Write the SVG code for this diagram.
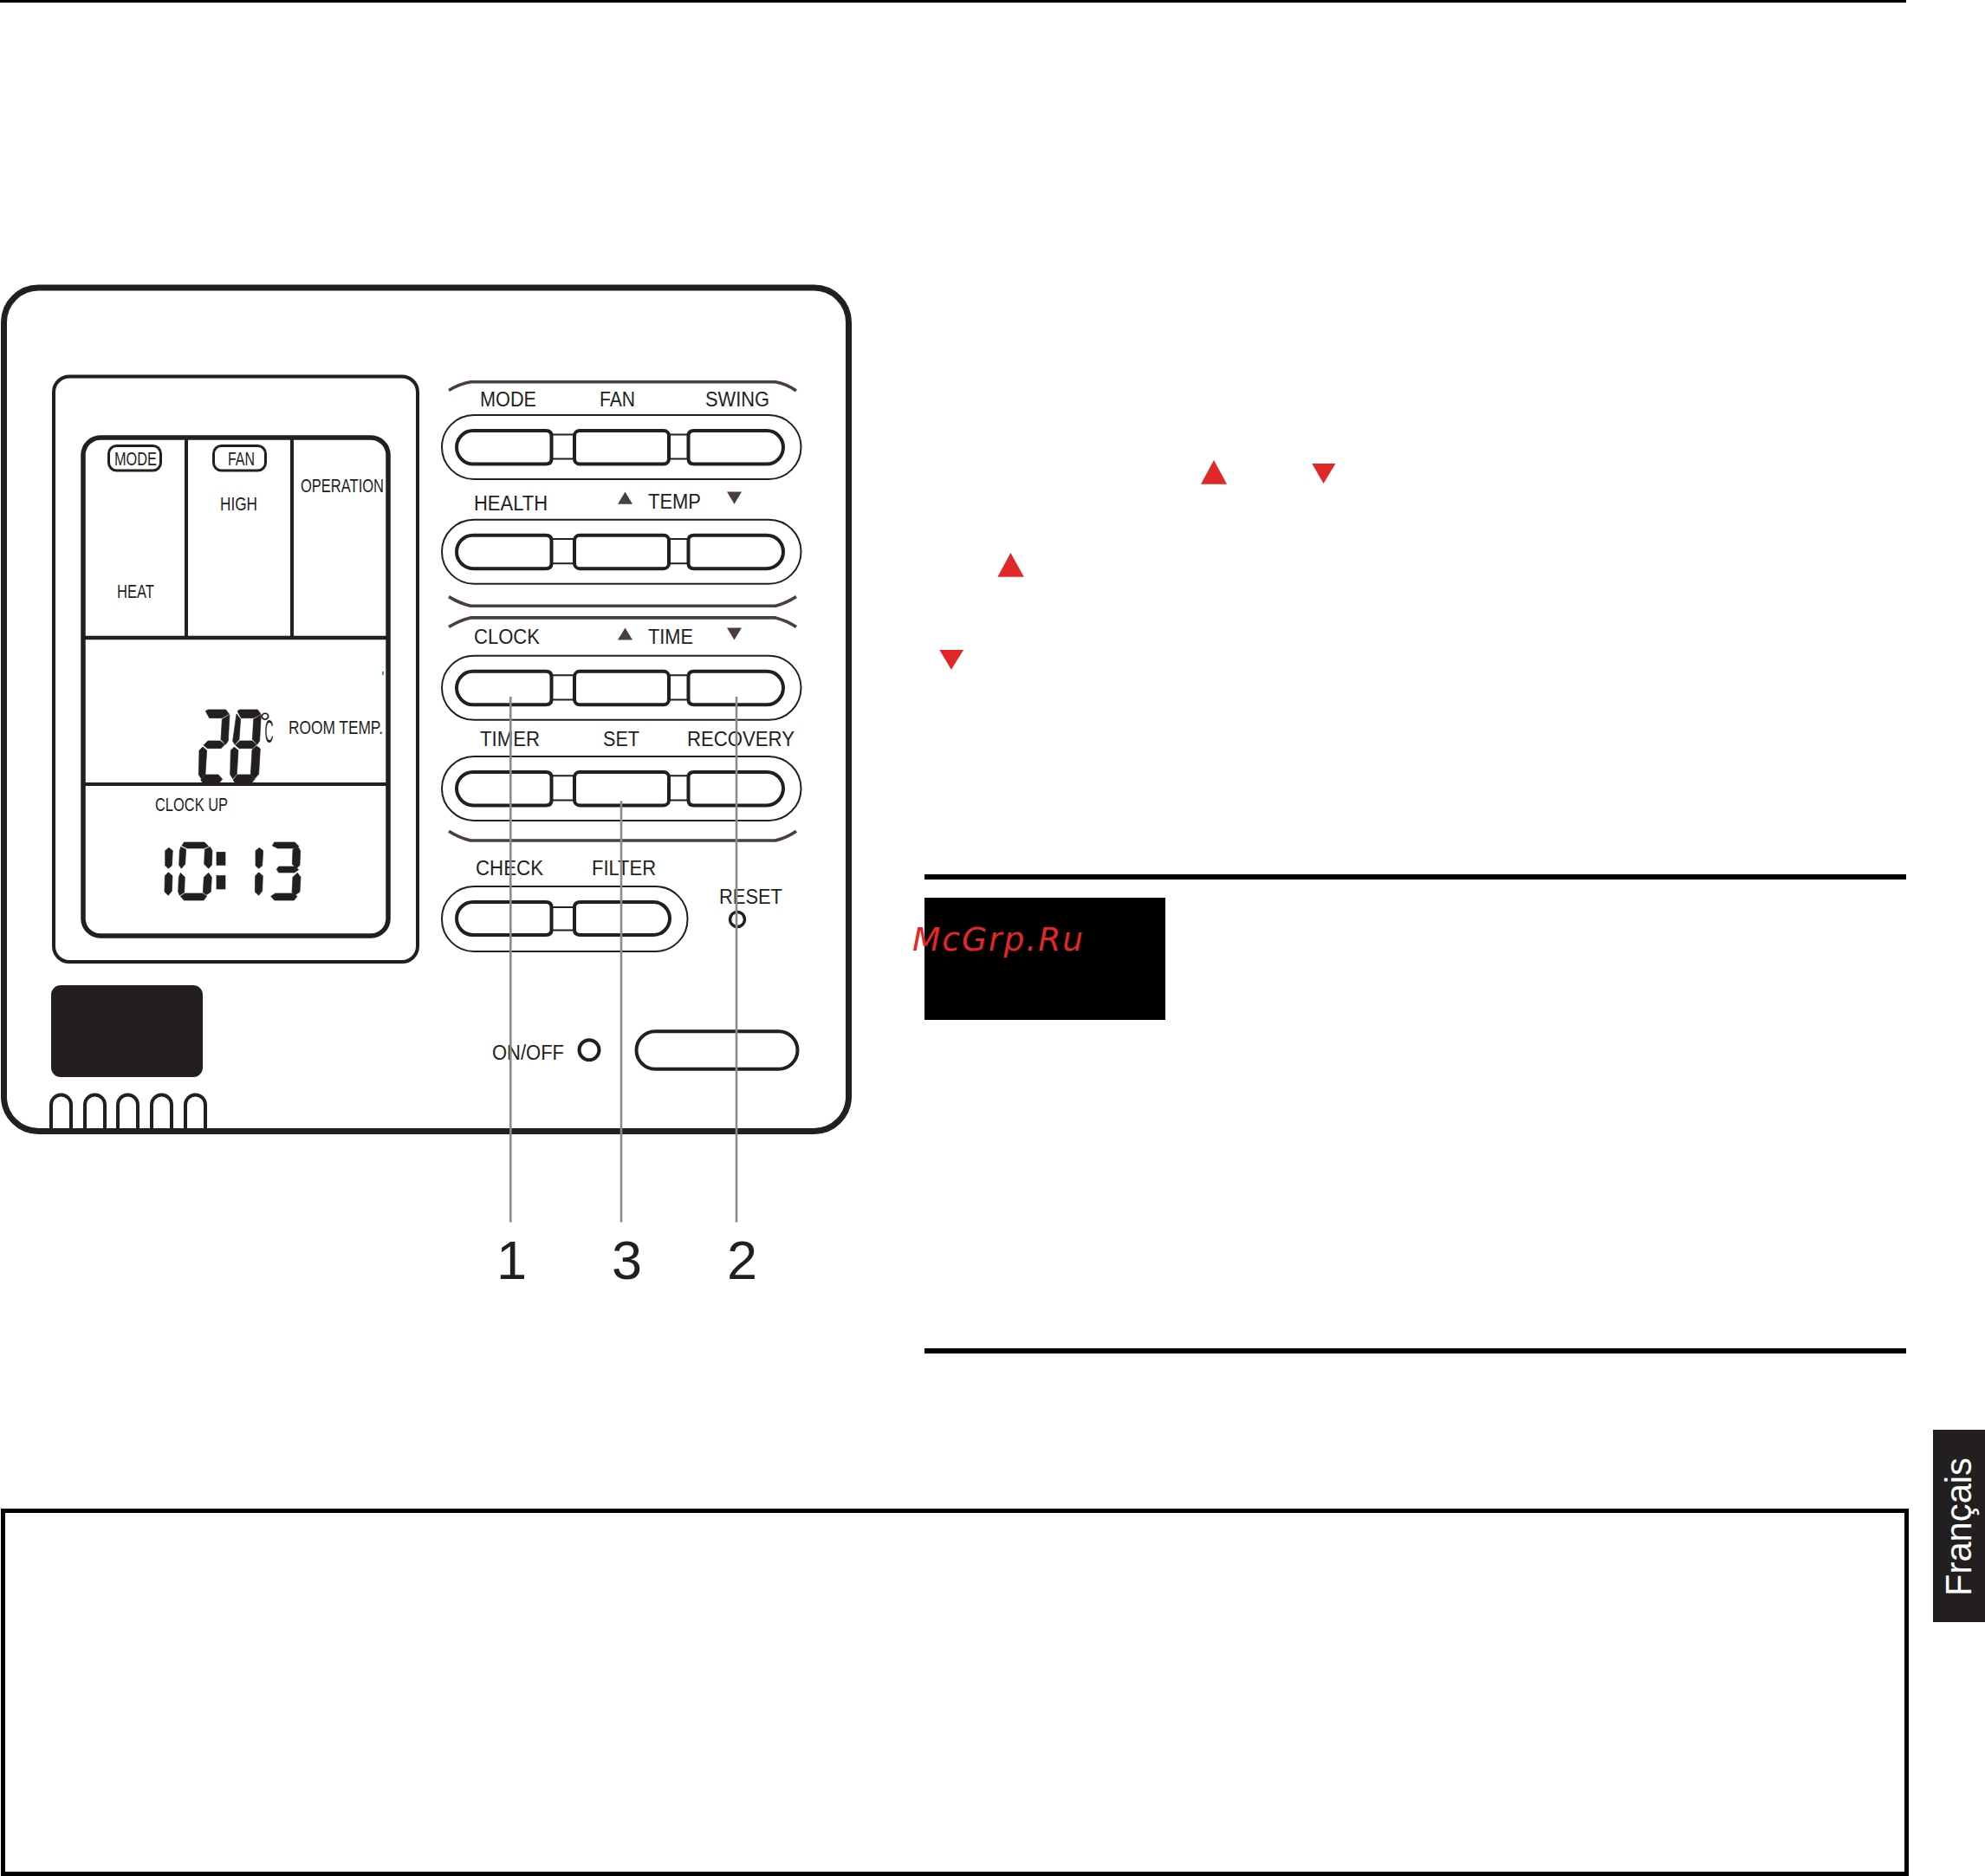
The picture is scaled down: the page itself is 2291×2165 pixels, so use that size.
<svg xmlns="http://www.w3.org/2000/svg" xmlns:xlink="http://www.w3.org/1999/xlink" width="2291" height="2165" viewBox="0 0 2291 2165">
<style>
text{font-family:"Liberation Sans",Arial,sans-serif;fill:#231f20}
.l{font-size:24.4px}
.d{font-size:22px}
.ln{fill:none;stroke:#231f20}
.btn{fill:#fff;stroke:#231f20;stroke-width:4}
.pill{fill:#fff;stroke:#231f20;stroke-width:2}
.thin{stroke:#231f20;stroke-width:2;fill:none}
.br{fill:none;stroke:#4a3f3c;stroke-width:3.6}
.gt{fill:#4a3f3c}
.rt{fill:#e12828}
.seg{fill:#231f20;stroke:#231f20;stroke-width:2}
.lead{stroke:#8a8a8c;stroke-width:2.6;fill:none}
.num{font-size:63px}
</style>
<defs>
<g id="row3">
<rect class="pill" x="510" y="479" width="414.5" height="74" rx="37"/>
<path class="thin" d="M636 501.400H664M636 529.600H664M771 501.400H795M771 529.600H795"/>
<path class="btn" d="M546 497H630Q636.500 497 636.500 503V529.500Q636.500 535.500 630 535.500H546C535 535.500 527 526 527 516.200C527 506 535 497 546 497Z"/>
<rect class="btn" x="663" y="497" width="109" height="38.500" rx="6"/>
<path class="btn" d="M885 497H801Q794.500 497 794.500 503V529.500Q794.500 535.500 801 535.500H885C896 535.500 904 526 904 516.200C904 506 896 497 885 497Z"/>
</g>
<path id="dgTop" d="M822,62L830,57L892,57L903,72L878,86L835,86Z"/>
<path id="dgUL" d="M819,72L833,90L828,160L813,178L806,165Z"/>
<path id="dgUR" d="M904,74L899,165L890,178L874,160L878,90Z"/>
<path id="dgMid" d="M815,180L830,165L873,165L888,178L875,191L828,191Z"/>
<path id="dgLL" d="M811,186L825,198L820,280L806,296L797,282L799,198Z"/>
<path id="dgLR" d="M888,182L901,192L896,280L882,296L868,282L873,196Z"/>
<path id="dgBot" d="M807,300L822,282L868,282L882,298L870,312L815,312Z"/>
<path id="sTop" d="M637,516L708,516L722,530L706,537L648,537L630,528Z"/>
<path id="sUL" d="M626,532L644,541L641,592L628,607L620,595L622,545Z"/>
<path id="sUR" d="M727,532L735,545L733,595L722,607L707,592L709,541Z"/>
<path id="sLL" d="M625,622L640,637L638,690L622,700L617,688L619,637Z"/>
<path id="sLR" d="M722,622L733,637L730,688L715,698L703,690L706,637Z"/>
<path id="sBot" d="M625,703L640,693L702,693L716,703L705,717L637,717Z"/>
</defs>

<rect width="2291" height="2165" fill="#fff"/>

<g id="page-rules">
<rect x="0" y="0" width="2200" height="3" fill="#000"/>
<rect x="1067" y="1009" width="1133" height="6" fill="#000"/>
<rect x="1067" y="1556" width="1133" height="6" fill="#000"/>
<rect x="3.500" y="1743.500" width="2197" height="419" fill="none" stroke="#000" stroke-width="5"/>
</g>

<g id="panel">
<rect class="ln" x="4.500" y="332" width="975" height="973.500" rx="40" stroke-width="7"/>
</g>

<g id="lcd-frame">
<rect class="ln" x="62" y="434.500" width="420" height="675.500" rx="18" stroke-width="4"/>
<rect class="ln" x="96" y="505" width="352" height="575" rx="20" stroke-width="5.500"/>
<path class="ln" stroke-width="4" d="M215,505V736M337,505V736"/>
<path class="ln" stroke-width="4.500" d="M96,736H448"/>
<path class="ln" stroke-width="4" d="M96,905H448"/>
<rect x="441" y="775" width="2" height="4" fill="#2aa0dc"/>
</g>

<g id="lcd-mode">
<rect class="ln" x="125.500" y="514.500" width="60" height="28.500" rx="9" stroke-width="3"/>
<text class="d" x="132" y="537" textLength="49" lengthAdjust="spacingAndGlyphs">MODE</text>
<text class="d" x="135" y="690" textLength="43" lengthAdjust="spacingAndGlyphs">HEAT</text>
</g>
<g id="lcd-fan">
<rect class="ln" x="246.500" y="514.500" width="60" height="28.500" rx="9" stroke-width="3"/>
<text class="d" x="263" y="537" textLength="31" lengthAdjust="spacingAndGlyphs">FAN</text>
<text class="d" x="254" y="589" textLength="43" lengthAdjust="spacingAndGlyphs">HIGH</text>
</g>
<g id="lcd-operation">
<text class="d" x="347" y="568" textLength="96" lengthAdjust="spacingAndGlyphs">OPERATION</text>
</g>
<g id="lcd-temp">
<g transform="translate(0,800) scale(.33333)" class="seg">
<use xlink:href="#dgTop" href="#dgTop" x="-110"/><use href="#dgUR" xlink:href="#dgUR" x="-109"/><use href="#dgMid" xlink:href="#dgMid" x="-110"/><use href="#dgLL" xlink:href="#dgLL" x="-109"/><use href="#dgBot" xlink:href="#dgBot" x="-112"/>
<use href="#dgTop" xlink:href="#dgTop"/><use href="#dgUL" xlink:href="#dgUL"/><use href="#dgUR" xlink:href="#dgUR"/><use href="#dgMid" xlink:href="#dgMid"/><use href="#dgLL" xlink:href="#dgLL"/><use href="#dgLR" xlink:href="#dgLR"/><use href="#dgBot" xlink:href="#dgBot"/>
</g>
<text><tspan x="299.500" y="844" font-size="32">°</tspan><tspan x="305.500" y="856.500" font-size="36" textLength="10" lengthAdjust="spacingAndGlyphs">C</tspan></text>
<text class="d" x="333" y="847" textLength="109" lengthAdjust="spacingAndGlyphs">ROOM TEMP.</text>
</g>
<g id="lcd-clock">
<text class="d" x="179" y="936" textLength="84" lengthAdjust="spacingAndGlyphs">CLOCK UP</text>
<g transform="translate(0,800) scale(.33333)" class="seg">
<path d="M585,535L598,545L595,597L583,607L572,597L572,545Z"/>
<path d="M583,620L597,632L595,685L583,700L570,688L571,632Z"/>
<use href="#sTop" xlink:href="#sTop"/><use href="#sUL" xlink:href="#sUL"/><use href="#sUR" xlink:href="#sUR"/><use href="#sLL" xlink:href="#sLL"/><use href="#sLR" xlink:href="#sLR"/><use href="#sBot" xlink:href="#sBot"/>
<rect x="750" y="550" width="30" height="45"/><rect x="750" y="632" width="30" height="46"/>
<path d="M898,535L911,545L908,597L896,607L885,597L885,545Z"/>
<path d="M896,620L910,632L908,685L896,700L883,688L884,632Z"/>
<use href="#sTop" xlink:href="#sTop" x="313"/><use href="#sUR" xlink:href="#sUR" x="305"/><use href="#sLR" xlink:href="#sLR" x="308"/><use href="#sBot" xlink:href="#sBot" x="313"/>
<path d="M965,600L1020,600L1034,611L1020,621L965,621L958,610Z"/>
</g>
</g>

<g id="black-block"><rect x="59" y="1137" width="175" height="106" rx="11" fill="#231f20"/></g>
<g id="feet">
<path class="ln" stroke-width="4" d="M59,1303V1275A11.500,11.500 0 0 1 82,1275V1303M98,1303V1275A11.500,11.500 0 0 1 121,1275V1303M136,1303V1275A11.500,11.500 0 0 1 159,1275V1303M175,1303V1275A11.500,11.500 0 0 1 198,1275V1303M214,1303V1275A11.500,11.500 0 0 1 237,1275V1303"/>
</g>

<g id="brackets">
<path class="br" d="M518,450.500Q530,443 543,440.700H895Q908,443 919,451"/>
<path class="br" d="M518,688.600Q530,696 543,699.300H895Q908,696 919,688.600"/>
<path class="br" d="M518,723.600Q530,716 543,712.900H895Q908,716 919,723.600"/>
<path class="br" d="M518,959.300Q530,967 543,970H895Q908,967 919,959.300"/>
</g>

<g id="row-1">
<use href="#row3" xlink:href="#row3"/>
<text class="l" x="554" y="468.900" textLength="65" lengthAdjust="spacingAndGlyphs">MODE</text>
<text class="l" x="692" y="468.900" textLength="41" lengthAdjust="spacingAndGlyphs">FAN</text>
<text class="l" x="814" y="468.900" textLength="74" lengthAdjust="spacingAndGlyphs">SWING</text>
</g>
<g id="row-2">
<use href="#row3" xlink:href="#row3" y="120.700"/>
<text class="l" x="547" y="588.600" textLength="85" lengthAdjust="spacingAndGlyphs">HEALTH</text>
<text class="l" x="748" y="586.800" textLength="61" lengthAdjust="spacingAndGlyphs">TEMP</text>
<path class="gt" d="M713,581.800L721.500,567.500L730,581.800Z"/>
<path class="gt" d="M839,567.500H856L847.500,581.800Z"/>
</g>
<g id="row-3">
<use href="#row3" xlink:href="#row3" y="277.800"/>
<text class="l" x="547" y="743.200" textLength="76" lengthAdjust="spacingAndGlyphs">CLOCK</text>
<text class="l" x="748" y="743.200" textLength="52" lengthAdjust="spacingAndGlyphs">TIME</text>
<path class="gt" d="M713,738.600L721.500,724.600L730,738.600Z"/>
<path class="gt" d="M839,724.600H856L847.500,738.600Z"/>
</g>
<g id="row-4">
<use href="#row3" xlink:href="#row3" y="393.900"/>
<text class="l" x="554" y="861" textLength="69" lengthAdjust="spacingAndGlyphs">TIMER</text>
<text class="l" x="696" y="861" textLength="42" lengthAdjust="spacingAndGlyphs">SET</text>
<text class="l" x="793" y="861" textLength="124" lengthAdjust="spacingAndGlyphs">RECOVERY</text>
</g>
<g id="row-5">
<rect class="pill" x="510" y="1023" width="283.500" height="75" rx="37"/>
<path class="thin" d="M636 1047H664M636 1073.600H664"/>
<path class="btn" d="M546 1041H630Q636.500 1041 636.500 1047V1073Q636.500 1079 630 1079H546C535 1079 527 1070 527 1060C527 1050 535 1041 546 1041Z"/>
<path class="btn" d="M754 1041H670Q663 1041 663 1047V1073Q663 1079 670 1079H754C765 1079 773 1070 773 1060C773 1050 765 1041 754 1041Z"/>
<text class="l" x="549" y="1009.900" textLength="78" lengthAdjust="spacingAndGlyphs">CHECK</text>
<text class="l" x="683" y="1009.900" textLength="74" lengthAdjust="spacingAndGlyphs">FILTER</text>
</g>
<g id="reset">
<text class="l" x="830" y="1043" textLength="73" lengthAdjust="spacingAndGlyphs">RESET</text>
<circle class="ln" cx="851" cy="1061" r="8.500" stroke-width="3.500"/>
</g>
<g id="onoff">
<text class="l" x="568" y="1222.700" textLength="83" lengthAdjust="spacingAndGlyphs">ON/OFF</text>
<circle class="ln" cx="680" cy="1211.700" r="11.500" stroke-width="4"/>
<rect class="ln" x="734.500" y="1190.300" width="186" height="43.500" rx="21.700" stroke-width="4"/>
</g>

<g id="connectors">
<path class="lead" d="M589.300,803.900V1410.400"/>
<path class="lead" d="M717,924.300V1410.400"/>
<path class="lead" d="M850,803.900V1410.400"/>
</g>
<g id="callouts">
<text class="num" x="573" y="1475.500">1</text>
<text class="num" x="706" y="1475.500">3</text>
<text class="num" x="839" y="1475.500">2</text>
</g>

<g id="red-marks">
<path class="rt" d="M1386,558.700L1401,531L1416,558.700Z"/>
<path class="rt" d="M1514.300,535H1541.400L1527.500,558Z"/>
<path class="rt" d="M1151.400,665.700L1166.400,638L1181.800,665.700Z"/>
<path class="rt" d="M1084.300,750H1112.100L1097.900,772.700Z"/>
</g>

<g id="watermark-box">
<rect x="1067" y="1036" width="278" height="141" fill="#000"/>
<text x="1053" y="1097" font-size="37.500" textLength="197" style="font-family:'DejaVu Sans',sans-serif;font-style:italic;fill:#e12828">McGrp.Ru</text>
</g>

<g id="language-tab">
<rect x="2231" y="1650" width="60" height="222" fill="#231f20"/>
<text transform="translate(2275,1842) rotate(-90)" font-size="42" textLength="160" lengthAdjust="spacingAndGlyphs" style="fill:#fff">Français</text>
</g>
</svg>
